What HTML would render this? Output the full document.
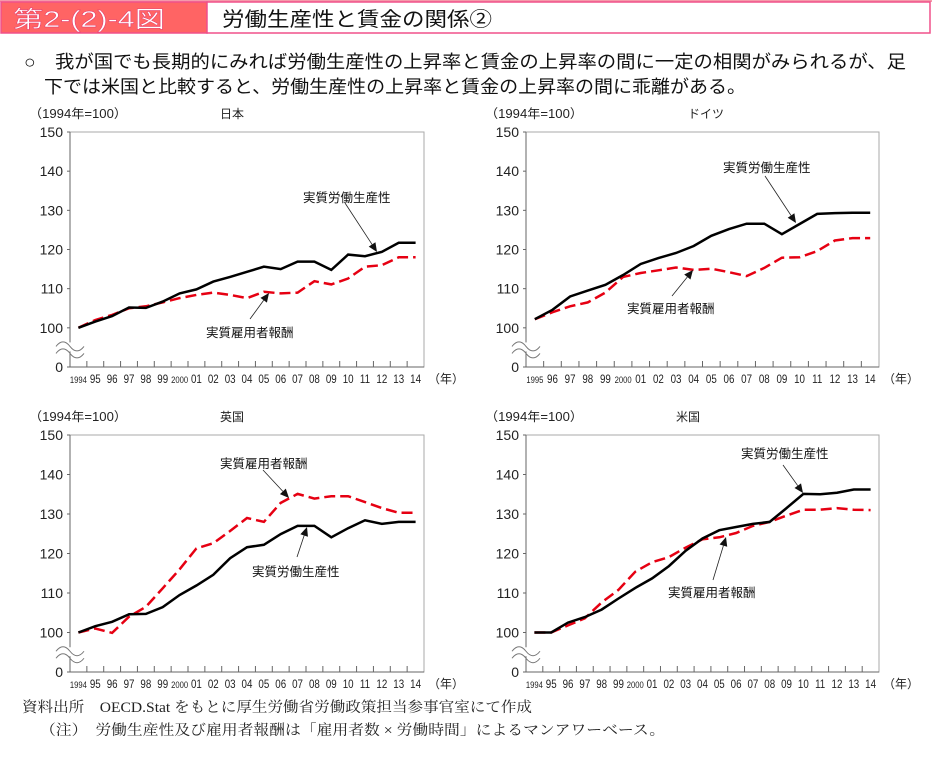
<!DOCTYPE html>
<html><head><meta charset="utf-8"><style>
body{margin:0;background:#fff;width:932px;height:757px;overflow:hidden}
svg{display:block}
.sans{font-family:"Liberation Sans","Noto Sans CJK JP",sans-serif}
.serif{font-family:"Liberation Serif","Noto Serif CJK SC",serif}
</style></head><body>
<svg id="page" width="932" height="757" viewBox="0 0 932 757" xmlns="http://www.w3.org/2000/svg">
<rect x="0" y="0" width="932" height="2" fill="#f59aaa"/>
<rect x="1" y="2" width="206" height="31" fill="#ff6464" stroke="#f0508a" stroke-width="1.5"/>
<text class="sans" x="13" y="27" font-size="23" fill="#fff" stroke="#e0306a" stroke-width="0.4" textLength="152" lengthAdjust="spacingAndGlyphs">第2-(2)-4図</text>
<rect x="207" y="2" width="723" height="31" fill="#fff" stroke="#f0508a" stroke-width="1.5"/>
<text class="sans" x="222" y="26" font-size="20" fill="#111" textLength="270" lengthAdjust="spacingAndGlyphs">労働生産性と賃金の関係②</text>
<text class="sans" x="24" y="68" font-size="18" fill="#111" textLength="882" lengthAdjust="spacingAndGlyphs">○　我が国でも長期的にみれば労働生産性の上昇率と賃金の上昇率の間に一定の相関がみられるが、足</text>
<text class="sans" x="44" y="93" font-size="18" fill="#111" textLength="702" lengthAdjust="spacingAndGlyphs">下では米国と比較すると、労働生産性の上昇率と賃金の上昇率の間に乖離がある。</text>
<g id="charts"></g>
<text class="serif" x="22" y="712" font-size="14.5" fill="#222" textLength="510" lengthAdjust="spacingAndGlyphs">資料出所　OECD.Stat をもとに厚生労働省労働政策担当参事官室にて作成</text>
<text class="serif" x="40" y="735" font-size="14.5" fill="#222" textLength="625" lengthAdjust="spacingAndGlyphs">（注）　労働生産性及び雇用者報酬は「雇用者数 × 労働時間」によるマンアワーベース。</text>
</svg>
<script>
const jpYears = ["1994","95","96","97","98","99","2000","01","02","03","04","05","06","07","08","09","10","11","12","13","14"];
const jpProd = [100,101.6,103,105.2,105.1,106.7,108.8,109.8,111.8,113,114.3,115.6,115,116.9,116.9,114.8,118.7,118.3,119.4,121.7,121.7];
const jpWage = [100,102,103.3,105,105.5,106.5,107.6,108.4,109,108.4,107.6,109.2,108.8,109,111.9,111.1,112.6,115.6,116,118,118];
const deYears = ["1995","96","97","98","99","2000","01","02","03","04","05","06","07","08","09","10","11","12","13","14"];
const deProd = [102.2,104.6,108,109.5,111,113.5,116.3,117.8,119.1,120.9,123.5,125.2,126.6,126.6,123.9,126.5,129.1,129.3,129.4,129.4];
const deWage = [102.2,104,105.5,106.5,109,113,114,114.7,115.4,114.8,115.1,114.2,113.2,115.3,117.9,118,119.6,122.3,122.9,122.9];
const ukYears = jpYears;
const ukProd = [100,101.6,102.7,104.6,104.7,106.4,109.5,111.9,114.6,118.8,121.6,122.2,124.9,127,127,124.1,126.4,128.4,127.5,128,128];
const ukWage = [100,101,99.9,104,106.5,111.2,116,121.3,122.6,125.7,129,128,132.8,135.1,133.9,134.5,134.5,133,131.5,130.3,130.3];
const usYears = jpYears;
const usProd = [100,100,102.5,103.9,105.8,108.6,111.3,113.7,116.8,120.7,123.8,125.9,126.7,127.5,128,131.5,135.1,135,135.4,136.2,136.2];
const usWage = [100,100,101.8,103.6,107.6,110.8,115.4,117.8,119.1,121.5,123.6,124.1,125.2,127,128,129.6,131.1,131.1,131.5,131.1,131];
const yTicks = ["150","140","130","120","110","100","0"];

const NS="http://www.w3.org/2000/svg";
const root=document.getElementById('charts');
function mk(tag,attrs,parent,txt){const e=document.createElementNS(NS,tag);for(const k in attrs)e.setAttribute(k,attrs[k]);if(txt!==undefined)e.textContent=txt;parent.appendChild(e);return e;}

const charts=[
 {id:'japan',title:'日本',left:70,right:424,top:132,bottom:367,years:jpYears,prod:jpProd,wage:jpWage,
  labP:{x:303,y:202,ax1:345,ay1:203,ax2:377,ay2:252},labW:{x:206,y:337,ax1:250,ay1:319,ax2:269,ay2:293}},
 {id:'germany',title:'ドイツ',left:526,right:879,top:132,bottom:367,years:deYears,prod:deProd,wage:deWage,
  labP:{x:723,y:172,ax1:765,ay1:176,ax2:796,ay2:223},labW:{x:627,y:313,ax1:672,ay1:296,ax2:693,ay2:270}},
 {id:'uk',title:'英国',left:70,right:424,top:435,bottom:672,years:ukYears,prod:ukProd,wage:ukWage,
  labW:{x:220,y:468,ax1:263,ay1:470,ax2:289,ay2:498},labP:{x:252,y:576,ax1:297,ay1:557,ax2:307,ay2:527}},
 {id:'us',title:'米国',left:526,right:879,top:435,bottom:672,years:usYears,prod:usProd,wage:usWage,
  labP:{x:741,y:458,ax1:783,ay1:465,ax2:803,ay2:493},labW:{x:668,y:597,ax1:713,ay1:580,ax2:726,ay2:537}}
];

charts.forEach(c=>{
  const g=mk('g',{},root);
  
  
  const step=(c.bottom-c.top)/6;
  const y=v=>c.bottom-step-(v-100)*step/10;
  const n=c.years.length, bw=(c.right-c.left)/n;
  const x=i=>c.left+bw*(i+0.5);
  const unitY=c.top-14;
  const u=mk('text',{x:c.left-41,y:unitY,'font-size':12.5,'class':'sans',fill:'#222',textLength:98,lengthAdjust:'spacingAndGlyphs'},g,'（1994年=100）');
  
  
  const t=mk('text',{x:c.left+(c.id==='germany'?162:150),y:unitY,'font-size':12,'class':'sans',fill:'#222'},g,c.title);
  
  
  const f=mk('rect',{x:c.left,y:c.top,width:c.right-c.left,height:c.bottom-c.top,fill:'none',stroke:'#aaa','stroke-width':1},g);
  
  
  mk('line',{x1:c.left,y1:c.top,x2:c.left,y2:c.bottom,stroke:'#666'},g);
  mk('line',{x1:c.left,y1:c.bottom,x2:c.right,y2:c.bottom,stroke:'#666'},g);
  yTicks.forEach((lab,i)=>{
    const yy=c.top+i*step;
    mk('line',{x1:c.left-3,y1:yy,x2:c.left,y2:yy,stroke:'#666'},g);
    const tl=mk('text',{x:c.left-7,y:yy+5,'font-size':14,'text-anchor':'end','class':'sans',fill:'#222'},g,lab);
    
    
  });
  for(let i=1;i<n;i++){const xx=c.left+bw*i;mk('line',{x1:xx,y1:c.bottom-6,x2:xx,y2:c.bottom,stroke:'#666'},g);}
  c.years.forEach((yr,i)=>{
    const fs=yr.length>2?9:11.5;
    const xl=mk('text',{x:x(i),y:c.bottom+16,'font-size':fs,'text-anchor':'middle','class':'sans',fill:'#222',transform:`translate(${x(i)},0) scale(0.85,1) translate(${-x(i)},0)`},g,yr);
    
    
  });
  const yu=mk('text',{x:c.right+4,y:c.bottom+16,'font-size':12,'class':'sans',fill:'#222'},g,'（年）');
  
  
  const by=c.bottom-step/2;
  const br=mk('g',{},g);
  
  
  mk('rect',{x:c.left-2,y:by-5,width:4,height:9,fill:'#fff'},br);
  [-3,4].forEach(d=>mk('path',{d:`M${c.left-14},${by+d+2} q7,-9 14,0 t14,0`,fill:'none',stroke:'#777','stroke-width':1},br));
  const pts=a=>a.map((v,i)=>x(i).toFixed(1)+','+y(v).toFixed(1)).join(' ');
  const wl=mk('polyline',{points:pts(c.wage),fill:'none',stroke:'#e60012','stroke-width':2.5,'stroke-dasharray':'11,5'},g);
  
  
  const pl=mk('polyline',{points:pts(c.prod),fill:'none',stroke:'#000','stroke-width':2.5},g);
  
  
  [[c.labP,'実質労働生産性','productivity'],[c.labW,'実質雇用者報酬','wage']].forEach(([L,txt,key])=>{
    const lt=mk('text',{x:L.x,y:L.y,'font-size':12.5,'class':'sans',fill:'#111'},g,txt);
    
    
    const dx=L.ax2-L.ax1,dy=L.ay2-L.ay1,len=Math.hypot(dx,dy),ux=dx/len,uy=dy/len;
    const bx=L.ax2-ux*9,byy=L.ay2-uy*9;
    mk('line',{x1:L.ax1,y1:L.ay1,x2:bx,y2:byy,stroke:'#222','stroke-width':0.8},g);
    const ar=mk('polygon',{points:`${L.ax2},${L.ay2} ${bx-uy*4},${byy+ux*4} ${bx+uy*4},${byy-ux*4}`,fill:'#111'},g);
    
    
  });
});
</script>
</body></html>
